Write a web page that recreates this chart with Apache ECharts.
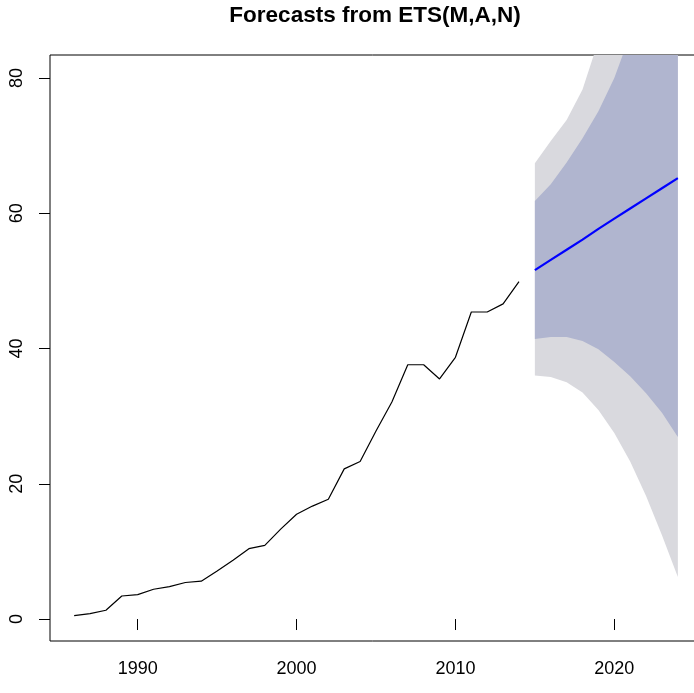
<!DOCTYPE html>
<html>
<head>
<meta charset="utf-8">
<title>Forecasts from ETS(M,A,N)</title>
<script src="https://cdn.jsdelivr.net/npm/echarts@6/dist/echarts.min.js"></script>
<style>
  html, body { margin: 0; padding: 0; background: #ffffff; }
  #chart { width: 694px; height: 693px; }
</style>
</head>
<body>
<div id="chart"></div>
<script>
// Observed annual series, 1986-2014
const histYears = [1986, 1987, 1988, 1989, 1990, 1991, 1992, 1993, 1994, 1995,
                   1996, 1997, 1998, 1999, 2000, 2001, 2002, 2003, 2004, 2005,
                   2006, 2007, 2008, 2009, 2010, 2011, 2012, 2013, 2014];
const histValues = [0.5, 0.8, 1.3, 3.4, 3.6, 4.4, 4.8, 5.4, 5.6, 7.1,
                    8.7, 10.4, 10.9, 13.3, 15.5, 16.7, 17.7, 22.2, 23.3, 27.8,
                    32.1, 37.6, 37.6, 35.5, 38.7, 45.4, 45.4, 46.6, 49.9];

// Forecast horizon 2015-2024: point forecast and prediction intervals
const fcYears  = [2015, 2016, 2017, 2018, 2019, 2020, 2021, 2022, 2023, 2024];
const fcMean   = [51.6, 53.1, 54.6, 56.1, 57.7, 59.2, 60.7, 62.2, 63.7, 65.2];
const lower80  = [41.4, 41.7, 41.7, 41.1, 39.9, 38.0, 35.9, 33.4, 30.5, 26.9];
const upper80  = [61.8, 64.3, 67.5, 71.1, 75.1, 80.0, 86.4, 93.0, 100.0, 107.5];
const lower95  = [36.0, 35.8, 35.0, 33.5, 30.9, 27.5, 23.3, 18.2, 12.4, 6.2];
const upper95  = [67.4, 70.7, 73.8, 78.3, 85.5, 93.0, 101.0, 110.0, 120.0, 130.0];

// Axis tick labels
const xTicks = [1990, 2000, 2010, 2020];
const yTicks = [0, 20, 40, 60, 80];

const titleText = 'Forecasts from ETS(M,A,N)';

const pairs = (xs, ys) => xs.map((x, i) => [x, ys[i]]);

const shade80 = '#B0B5CF';
const shade95 = '#D9D9DE';
const font = '"Liberation Sans", Arial, Helvetica, sans-serif';

// A prediction interval drawn as one filled polygon: upper edge left to right,
// then lower edge right to left, clipped to the plotting area.
const intervalSeries = (name, lo, hi, color, z) => ({
  name: name,
  type: 'custom',
  coordinateSystem: 'cartesian2d',
  data: fcYears.map((y, i) => [y, lo[i], hi[i]]),
  encode: { x: 0, y: [1, 2] },
  silent: true,
  z: z,
  renderItem: (params, api) => {
    if (params.dataIndex !== 0) return null;
    const pts = [];
    for (let i = 0; i < fcYears.length; i++) pts.push(api.coord([fcYears[i], hi[i]]));
    for (let i = fcYears.length - 1; i >= 0; i--) pts.push(api.coord([fcYears[i], lo[i]]));
    const cs = params.coordSys;
    return {
      type: 'group',
      clipPath: { type: 'rect', shape: { x: cs.x, y: cs.y, width: cs.width, height: cs.height } },
      children: [{
        type: 'polygon',
        shape: { points: pts },
        style: { fill: color, stroke: null }
      }]
    };
  }
});

const chart = echarts.init(document.getElementById('chart'), null, { renderer: 'canvas' });

chart.setOption({
  animation: false,
  backgroundColor: '#ffffff',
  title: {
    text: titleText,
    left: 370,
    top: -1,
    textAlign: 'center',
    textStyle: { fontFamily: font, fontWeight: 'bold', fontSize: 22.5, color: '#000000' }
  },
  grid: {
    left: 50,
    top: 55,
    width: 652,
    height: 586,
    outerBoundsMode: 'none',
    containLabel: false,
    show: true,
    borderColor: '#000000',
    borderWidth: 1,
    backgroundColor: 'transparent'
  },
  xAxis: {
    type: 'value',
    min: 1984.48,
    max: 2025.52,
    splitLine: { show: false },
    axisLine: { show: false },
    axisTick: {
      show: true, inside: false, length: 11,
      customValues: xTicks,
      lineStyle: { color: '#000000', width: 1 }
    },
    axisLabel: {
      customValues: xTicks,
      margin: 19,
      fontFamily: font, fontSize: 18, color: '#000000',
      formatter: v => String(v)
    }
  },
  yAxis: {
    type: 'value',
    min: -3.25,
    max: 83.4,
    splitLine: { show: false },
    axisLine: { show: false },
    axisTick: {
      show: true, inside: false, length: 11,
      customValues: yTicks,
      lineStyle: { color: '#000000', width: 1 }
    },
    axisLabel: {
      customValues: yTicks,
      rotate: 90,
      margin: 24,
      fontFamily: font, fontSize: 18, color: '#000000',
      formatter: v => String(v)
    }
  },
  series: [
    intervalSeries('95% interval', lower95, upper95, shade95, 1),
    intervalSeries('80% interval', lower80, upper80, shade80, 2),
    {
      name: 'history',
      type: 'line',
      data: pairs(histYears, histValues),
      symbol: 'none',
      lineStyle: { color: '#000000', width: 1.2 },
      z: 3
    },
    {
      name: 'forecast',
      type: 'line',
      data: pairs(fcYears, fcMean),
      symbol: 'none',
      lineStyle: { color: '#0000FF', width: 2.2 },
      z: 4
    }
  ]
});
</script>
</body>
</html>
